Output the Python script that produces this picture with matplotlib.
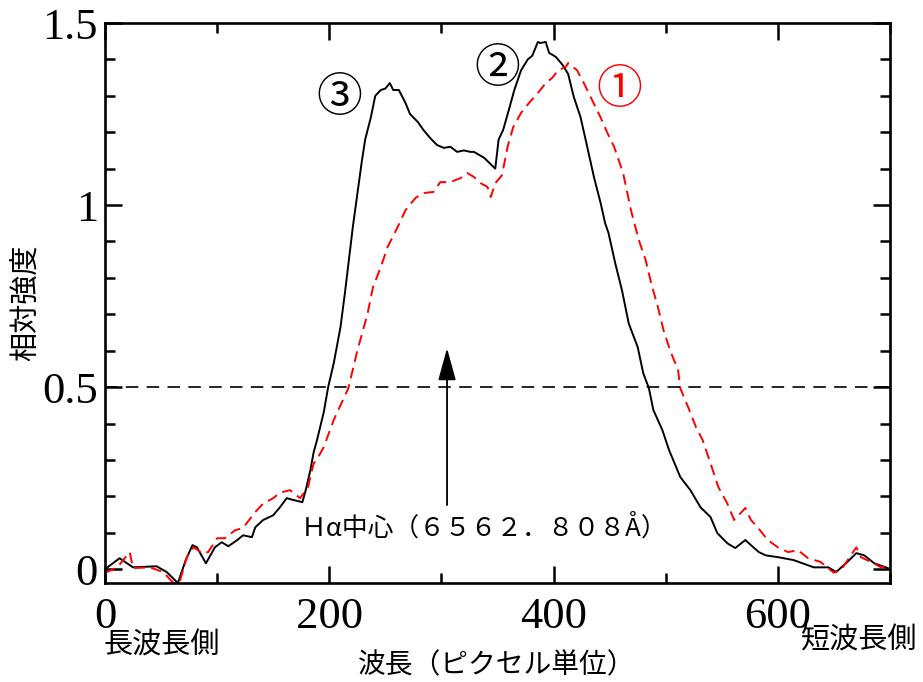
import matplotlib
matplotlib.use('Agg')
from matplotlib import pyplot as plt
from matplotlib.ticker import MultipleLocator

# black solid curve (pixel position, relative intensity)
x_black = [0, 13, 25, 46, 55, 65, 72, 78, 82, 90, 98, 104, 110, 118, 123, 131, 134,
           141, 150, 156, 162, 168, 176, 179, 183, 186, 189, 195, 199, 204, 210, 214,
           221, 225, 229, 232, 237, 241, 246, 250, 254, 257, 262, 268, 272, 279, 284,
           290, 296, 302, 308, 314, 320, 326, 329, 338, 348, 351, 355, 360, 365, 371,
           377, 381, 386, 388, 393, 396, 402, 408, 413, 418, 424, 430, 436, 442, 446,
           449, 455, 461, 467, 475, 480, 485, 489, 497, 503, 513, 522, 531, 540, 546,
           555, 562, 571, 576, 583, 589, 600, 614, 632, 645, 652, 662, 670, 677, 686,
           698]
y_black = [0.0, 0.03, 0.005, 0.008, -0.008, -0.038, 0.025, 0.066, 0.06, 0.016, 0.06,
           0.074, 0.063, 0.08, 0.093, 0.088, 0.115, 0.135, 0.148, 0.17, 0.195, 0.19,
           0.184, 0.217, 0.27, 0.32, 0.354, 0.43, 0.50, 0.566, 0.665, 0.76, 0.94,
           1.03, 1.12, 1.18, 1.24, 1.30, 1.316, 1.32, 1.335, 1.316, 1.316, 1.28, 1.25,
           1.228, 1.206, 1.184, 1.165, 1.157, 1.16, 1.146, 1.15, 1.146, 1.146, 1.13,
           1.10, 1.18, 1.206, 1.26, 1.316, 1.37, 1.40, 1.41, 1.448, 1.445, 1.448,
           1.418, 1.407, 1.385, 1.36, 1.297, 1.242, 1.16, 1.077, 1.005, 0.95, 0.923,
           0.84, 0.766, 0.675, 0.61, 0.538, 0.497, 0.437, 0.382, 0.327, 0.253, 0.217,
           0.17, 0.143, 0.099, 0.071, 0.058, 0.08, 0.066, 0.047, 0.038, 0.033, 0.025,
           0.005, 0.005, -0.008, 0.02, 0.044, 0.038, 0.016, 0.003]

# red dashed curve
x_red = [0, 11, 22, 25, 40, 52, 60, 67, 73, 79, 87, 92, 100, 107, 116, 123, 134, 141,
         150, 156, 165, 174, 181, 186, 190, 195, 204, 217, 225, 234, 239, 246, 252,
         261, 268, 277, 284, 293, 299, 308, 317, 323, 329, 335, 341, 344, 348, 354,
         359, 364, 371, 378, 386, 393, 399, 404, 411, 413, 421, 427, 433, 442, 448,
         454, 462, 469, 476, 482, 487, 493, 498, 504, 511, 513, 520, 527, 533, 540,
         547, 555, 561, 565, 571, 576, 582, 591, 600, 609, 618, 627, 638, 650, 658,
         665, 670, 674, 683, 692, 698]
y_red = [-0.01, 0.005, 0.047, 0.003, 0.005, -0.008, -0.035, -0.03, 0.033, 0.06, 0.044,
         0.047, 0.085, 0.085, 0.107, 0.113, 0.157, 0.18, 0.195, 0.21, 0.217, 0.195,
         0.225, 0.29, 0.307, 0.335, 0.41, 0.497, 0.60, 0.70, 0.775, 0.83, 0.885, 0.94,
         0.986, 1.02, 1.033, 1.036, 1.063, 1.063, 1.074, 1.088, 1.077, 1.06, 1.05,
         1.022, 1.06, 1.082, 1.16, 1.214, 1.253, 1.28, 1.308, 1.335, 1.35, 1.37,
         1.38, 1.39, 1.37, 1.335, 1.297, 1.24, 1.198, 1.16, 1.088, 0.986, 0.904,
         0.85, 0.786, 0.72, 0.657, 0.60, 0.547, 0.497, 0.445, 0.39, 0.354, 0.29,
         0.225, 0.18, 0.135, 0.148, 0.168, 0.135, 0.115, 0.08, 0.06, 0.047, 0.052,
         0.03, 0.02, -0.01, 0.005, 0.038, 0.06, 0.033, 0.02, 0.005, 0.01]

half_level = 0.5
h_alpha_pixel = 305
x_ticks = [0, 200, 400, 600]
y_ticks = [0, 0.5, 1, 1.5]
y_tick_labels = ['0', '0.5', '1', '1.5']

jp = ['Noto Sans CJK JP', 'DejaVu Sans']
serif = 'Liberation Serif'

fig = plt.figure(figsize=(9.23, 6.82), dpi=100)
ax = fig.add_axes([105 / 923, 1 - 583 / 682, 785 / 923, 560 / 682])

ax.plot(x_black, y_black, color='black', lw=1.4)
ax.plot(x_red, y_red, color='red', lw=1.4, dashes=(5.5, 3.2))
ax.axhline(half_level, color='black', lw=1.2, dashes=(7.5, 5))

ax.annotate('', xy=(h_alpha_pixel, 0.607), xytext=(h_alpha_pixel, 0.176),
            arrowprops=dict(arrowstyle='-|>,head_length=20,head_width=5.5',
                            mutation_scale=1, color='black', lw=1.3,
                            shrinkA=0, shrinkB=0))

ax.text(338, 0.113, 'Ｈα中心（６５６２．８０８Å）', family=jp, fontsize=18.5,
        ha='center', va='center')
ax.text(209, 1.294, '③', family=jp, fontsize=33, ha='center', va='center')
ax.text(350, 1.374, '②', family=jp, fontsize=33, ha='center', va='center')
ax.text(459, 1.316, '①', family=jp, fontsize=33, ha='center', va='center', color='red')

ax.set_xlim(0, 700)
ax.set_ylim(-0.038, 1.5)
ax.set_xticks(x_ticks)
ax.set_xticklabels([str(t) for t in x_ticks])
ax.set_yticks(y_ticks)
ax.set_yticklabels(y_tick_labels)
ax.xaxis.set_minor_locator(MultipleLocator(100))
ax.yaxis.set_minor_locator(MultipleLocator(0.1))
ax.tick_params(which='both', direction='in', top=True, right=True, width=1.8)
ax.tick_params(which='major', length=12.5)
ax.tick_params(which='minor', length=7)
ax.tick_params(axis='x', which='major', pad=10)
ax.tick_params(axis='y', which='major', pad=5)
for lab in ax.get_xticklabels() + ax.get_yticklabels():
    lab.set_family(serif)
    lab.set_fontsize(32)
for s in ax.spines.values():
    s.set_linewidth(1.9)

fig.text(27 / 923, 1 - 303 / 682, '相対強度', family=jp, fontsize=21, rotation=90,
         ha='center', va='center')
fig.text(497 / 923, 1 - 665 / 682, '波長（ピクセル単位）', family=jp, fontsize=20,
         ha='center', va='center')
fig.text(162 / 923, 1 - 646 / 682, '長波長側', family=jp, fontsize=21,
         ha='center', va='center')
fig.text(858 / 923, 1 - 640 / 682, '短波長側', family=jp, fontsize=21,
         ha='center', va='center')

fig.savefig('out.png', dpi=100)
